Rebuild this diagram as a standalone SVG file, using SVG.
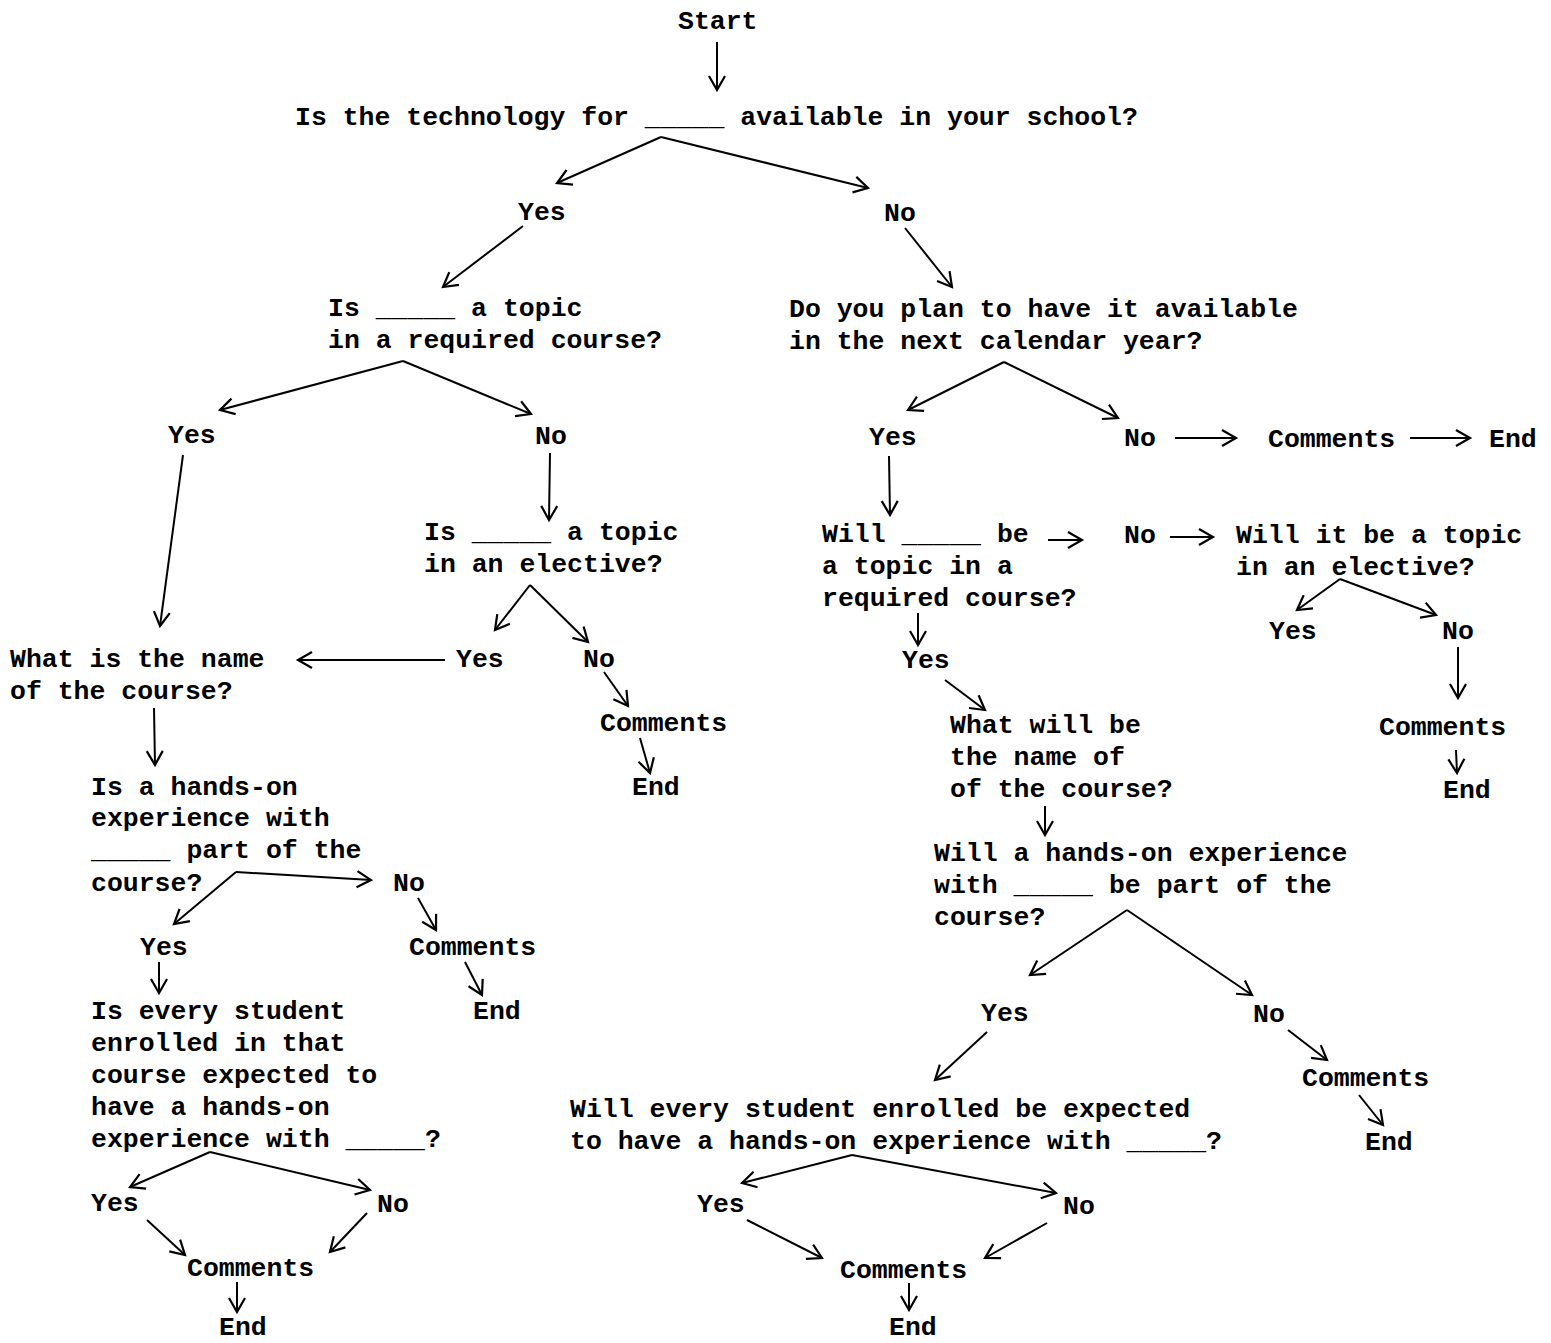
<svg xmlns="http://www.w3.org/2000/svg" width="1551" height="1343" viewBox="0 0 1551 1343">
<style>
text{font-family:"Liberation Mono","DejaVu Sans Mono",monospace;font-size:26.5px;font-weight:bold;fill:#000;white-space:pre}
.c line{stroke:#000;stroke-width:2;fill:none;marker-end:url(#ah)}
</style>
<defs>
<marker id="ah" viewBox="-16 -10 20 20" refX="0" refY="0" markerWidth="20" markerHeight="20" markerUnits="userSpaceOnUse" orient="auto">
<path d="M-14,-8 L0,0 L-14,8" fill="none" stroke="#000" stroke-width="2.2"/>
</marker>
</defs>
<rect width="1551" height="1343" fill="#fff"/>

<g id="n-start"><text x="678" y="29">Start</text></g>
<g id="n-q1"><text x="295" y="125">Is the technology for _____ available in your school?</text></g>
<g id="n-yes1"><text x="518" y="220">Yes</text></g>
<g id="n-no1"><text x="884" y="221">No</text></g>
<g id="n-q2"><text x="328" y="316">Is _____ a topic</text><text x="328" y="348">in a required course?</text></g>
<g id="n-q3"><text x="789" y="317">Do you plan to have it available</text><text x="789" y="349">in the next calendar year?</text></g>
<g id="n-yes2"><text x="168" y="443">Yes</text></g>
<g id="n-no2"><text x="535" y="444">No</text></g>
<g id="n-yes3"><text x="869" y="445">Yes</text></g>
<g id="n-no3"><text x="1124" y="446">No</text></g>
<g id="n-com3"><text x="1268" y="447">Comments</text></g>
<g id="n-end3"><text x="1489" y="447">End</text></g>
<g id="n-q4"><text x="424" y="540">Is _____ a topic</text><text x="424" y="572">in an elective?</text></g>
<g id="n-q5"><text x="822" y="542">Will _____ be</text><text x="822" y="574">a topic in a</text><text x="822" y="606">required course?</text></g>
<g id="n-no5"><text x="1124" y="543">No</text></g>
<g id="n-q6"><text x="1236" y="543">Will it be a topic</text><text x="1236" y="575">in an elective?</text></g>
<g id="n-q7"><text x="10" y="667">What is the name</text><text x="10" y="699">of the course?</text></g>
<g id="n-yes4"><text x="456" y="667">Yes</text></g>
<g id="n-no4"><text x="583" y="667">No</text></g>
<g id="n-com4"><text x="600" y="731">Comments</text></g>
<g id="n-end4"><text x="632" y="795">End</text></g>
<g id="n-yes5"><text x="902" y="668">Yes</text></g>
<g id="n-yes6"><text x="1269" y="639">Yes</text></g>
<g id="n-no6"><text x="1442" y="639">No</text></g>
<g id="n-q8"><text x="950" y="733">What will be</text><text x="950" y="765">the name of</text><text x="950" y="797">of the course?</text></g>
<g id="n-com6"><text x="1379" y="735">Comments</text></g>
<g id="n-end6"><text x="1443" y="798">End</text></g>
<g id="n-q9"><text x="91" y="795">Is a hands-on</text><text x="91" y="826">experience with</text><text x="91" y="858">_____ part of the</text><text x="91" y="891">course?</text></g>
<g id="n-no9"><text x="393" y="891">No</text></g>
<g id="n-q10"><text x="934" y="861">Will a hands-on experience</text><text x="934" y="893">with _____ be part of the</text><text x="934" y="925">course?</text></g>
<g id="n-yes9"><text x="140" y="955">Yes</text></g>
<g id="n-com9"><text x="409" y="955">Comments</text></g>
<g id="n-end9"><text x="473" y="1019">End</text></g>
<g id="n-q11"><text x="91" y="1019">Is every student</text><text x="91" y="1051">enrolled in that</text><text x="91" y="1083">course expected to</text><text x="91" y="1115">have a hands-on</text><text x="91" y="1147">experience with _____?</text></g>
<g id="n-yes10"><text x="981" y="1021">Yes</text></g>
<g id="n-no10"><text x="1253" y="1022">No</text></g>
<g id="n-com10"><text x="1302" y="1086">Comments</text></g>
<g id="n-end10"><text x="1365" y="1150">End</text></g>
<g id="n-q12"><text x="570" y="1117">Will every student enrolled be expected</text><text x="570" y="1149">to have a hands-on experience with _____?</text></g>
<g id="n-yes11"><text x="91" y="1211">Yes</text></g>
<g id="n-no11"><text x="377" y="1212">No</text></g>
<g id="n-com11"><text x="187" y="1276">Comments</text></g>
<g id="n-end11"><text x="219" y="1335">End</text></g>
<g id="n-yes12"><text x="697" y="1212">Yes</text></g>
<g id="n-no12"><text x="1063" y="1214">No</text></g>
<g id="n-com12"><text x="840" y="1278">Comments</text></g>
<g id="n-end12"><text x="889" y="1335">End</text></g>

<g id="connectors" class="c">
<line x1="717" y1="42" x2="717" y2="90"/>
<line x1="661" y1="137" x2="557" y2="183"/>
<line x1="661" y1="137" x2="868" y2="188"/>
<line x1="523" y1="226" x2="443" y2="287"/>
<line x1="905" y1="228" x2="952" y2="287"/>
<line x1="403" y1="361" x2="220" y2="410"/>
<line x1="403" y1="361" x2="531" y2="414"/>
<line x1="183" y1="455" x2="160" y2="626"/>
<line x1="550" y1="453" x2="549" y2="520"/>
<line x1="530" y1="585" x2="495" y2="630"/>
<line x1="530" y1="585" x2="588" y2="642"/>
<line x1="445" y1="660" x2="298" y2="660"/>
<line x1="604" y1="672" x2="628" y2="706"/>
<line x1="640" y1="738" x2="650" y2="773"/>
<line x1="154" y1="708" x2="155" y2="765"/>
<line x1="236" y1="872" x2="174" y2="924"/>
<line x1="236" y1="872" x2="371" y2="880"/>
<line x1="418" y1="898" x2="436" y2="930"/>
<line x1="465" y1="962" x2="482" y2="995"/>
<line x1="159" y1="962" x2="159" y2="993"/>
<line x1="210" y1="1152" x2="130" y2="1187"/>
<line x1="210" y1="1152" x2="370" y2="1190"/>
<line x1="147" y1="1220" x2="185" y2="1255"/>
<line x1="367" y1="1213" x2="330" y2="1252"/>
<line x1="237" y1="1282" x2="237" y2="1312"/>
<line x1="889" y1="456" x2="890" y2="515"/>
<line x1="1048" y1="540" x2="1082" y2="540"/>
<line x1="1170" y1="537" x2="1213" y2="537"/>
<line x1="1175" y1="438" x2="1236" y2="438"/>
<line x1="1410" y1="438" x2="1470" y2="438"/>
<line x1="1004" y1="362" x2="908" y2="410"/>
<line x1="1004" y1="362" x2="1118" y2="418"/>
<line x1="1340" y1="579" x2="1297" y2="610"/>
<line x1="1340" y1="579" x2="1436" y2="615"/>
<line x1="1458" y1="647" x2="1458" y2="698"/>
<line x1="1456" y1="750" x2="1457" y2="773"/>
<line x1="918" y1="613" x2="918" y2="645"/>
<line x1="945" y1="680" x2="985" y2="710"/>
<line x1="1045" y1="806" x2="1045" y2="835"/>
<line x1="1127" y1="910" x2="1030" y2="975"/>
<line x1="1127" y1="910" x2="1252" y2="995"/>
<line x1="987" y1="1032" x2="935" y2="1080"/>
<line x1="1288" y1="1030" x2="1327" y2="1060"/>
<line x1="1359" y1="1095" x2="1383" y2="1125"/>
<line x1="852" y1="1155" x2="742" y2="1183"/>
<line x1="852" y1="1155" x2="1056" y2="1193"/>
<line x1="747" y1="1220" x2="822" y2="1258"/>
<line x1="1047" y1="1223" x2="985" y2="1258"/>
<line x1="909" y1="1283" x2="909" y2="1310"/>
</g>
</svg>
